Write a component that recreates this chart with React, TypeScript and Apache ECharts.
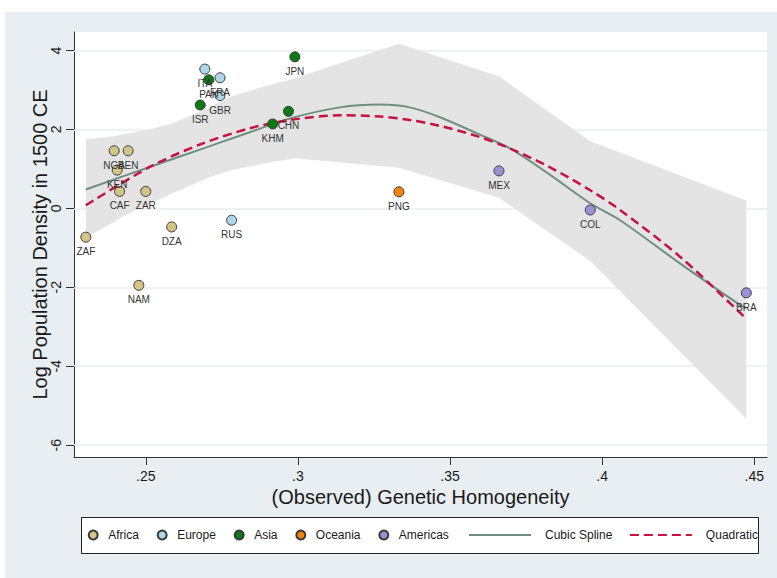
import { useEffect, useRef } from "react";
import * as echarts from "echarts";

// [country code, genetic homogeneity, log population density 1500 CE]
const africa: [string, number, number][] = [
  ["ZAF", 0.2303, -0.73],
  ["NGA", 0.2396, 1.46],
  ["BEN", 0.2442, 1.46],
  ["KEN", 0.2406, 0.97],
  ["CAF", 0.2414, 0.43],
  ["ZAR", 0.25, 0.43],
  ["DZA", 0.2585, -0.47],
  ["NAM", 0.2477, -1.95],
];
const europe: [string, number, number][] = [
  ["ITA", 0.2694, 3.53],
  ["FRA", 0.2744, 3.31],
  ["GBR", 0.2744, 2.86],
  ["RUS", 0.2782, -0.3],
];
const asia: [string, number, number][] = [
  ["PAK", 0.2707, 3.26],
  ["ISR", 0.2679, 2.62],
  ["JPN", 0.299, 3.84],
  ["CHN", 0.2969, 2.46],
  ["KHM", 0.2917, 2.14],
];
const oceania: [string, number, number][] = [["PNG", 0.3332, 0.42]];
const americas: [string, number, number][] = [
  ["MEX", 0.3661, 0.95],
  ["COL", 0.3961, -0.04],
  ["BRA", 0.4474, -2.14],
];

// confidence band of the cubic spline
const bandX = [0.2303, 0.2395, 0.2414, 0.2441, 0.2477, 0.25, 0.2586, 0.2678, 0.2707, 0.2743, 0.2783, 0.2918, 0.297, 0.299, 0.3332, 0.3661, 0.3961, 0.4474];
const bandUpper = [1.75, 1.83, 1.86, 1.9, 1.95, 1.98, 2.15, 2.45, 2.55, 2.7, 2.85, 3.15, 3.25, 3.3, 4.17, 3.35, 1.7, 0.2];
const bandLower = [-0.74, -0.35, -0.25, -0.14, 0.0, 0.06, 0.38, 0.68, 0.78, 0.88, 0.97, 1.18, 1.24, 1.27, 1.03, 0.27, -1.33, -5.33];

// fitted curves
const fitX = [0.2303, 0.2513, 0.2678, 0.2842, 0.2974, 0.3138, 0.327, 0.3368, 0.3467, 0.3589, 0.3697, 0.3829, 0.3961, 0.4059, 0.4257, 0.4454, 0.4474];
const cubicY = [0.48, 1.05, 1.49, 1.93, 2.28, 2.56, 2.63, 2.56, 2.31, 1.9, 1.52, 0.85, 0.13, -0.3, -1.4, -2.45, -2.52];
const quadY = [0.08, 1.05, 1.62, 2.03, 2.24, 2.36, 2.33, 2.24, 2.09, 1.83, 1.52, 1.04, 0.46, -0.04, -1.23, -2.65, -2.81];

const xTicks = [0.25, 0.3, 0.35, 0.4, 0.45];
const yTicks = [-6, -4, -2, 0, 2, 4];

export default function App() {
  const ref = useRef<HTMLDivElement>(null);
  useEffect(() => {
    const chart = echarts.init(ref.current!, null, { renderer: "svg" });
    const font = "'Liberation Sans', Arial, Helvetica, sans-serif";
    const scatter = (name: string, color: string, data: [string, number, number][]) => ({
      name,
      type: "scatter",
      data: data.map((d) => ({ name: d[0], value: [d[1], d[2]] })),
      symbolSize: 10,
      z: 5,
      itemStyle: { color, borderColor: "#3a3a3a", borderWidth: 1, opacity: 1 },
      label: {
        show: true,
        position: "bottom",
        distance: 4,
        formatter: "{b}",
        fontSize: 10,
        color: "#333",
        fontFamily: font,
      },
      emphasis: { disabled: true },
    });
    const option: any = {
      animation: false,
      backgroundColor: "#ffffff",
      textStyle: { fontFamily: font },
      graphic: [
        {
          type: "rect",
          z: -10,
          silent: true,
          shape: { x: 5, y: 12, width: 772, height: 566 },
          style: { fill: "#e8eef1" },
        },
        {
          type: "rect",
          z: -5,
          silent: true,
          shape: { x: 81.5, y: 517.5, width: 677, height: 36 },
          style: { fill: "#ffffff", stroke: "#222", lineWidth: 1 },
        },
      ],
      grid: { left: 74, right: 10, top: 32, bottom: 121, show: true, backgroundColor: "#ffffff", borderWidth: 0 },
      xAxis: {
        type: "value",
        min: 0.2264,
        max: 0.4542,
        name: "(Observed) Genetic Homogeneity",
        nameLocation: "middle",
        nameGap: 30,
        nameMoveOverlap: false,
        nameTextStyle: { fontSize: 20, color: "#1a1a1a", fontFamily: font },
        axisLine: { show: true, onZero: false, lineStyle: { color: "#333", width: 1 } },
        axisTick: { show: true, length: 8, customValues: xTicks, lineStyle: { color: "#333" } },
        axisLabel: {
          customValues: xTicks,
          margin: 12,
          fontSize: 14,
          color: "#1a1a1a",
          fontFamily: font,
          formatter: (v: number) => String(v).replace(/^0/, ""),
        },
        splitLine: { show: false },
      },
      yAxis: {
        type: "value",
        min: -6.3,
        max: 4.47,
        name: "Log Population Density in 1500 CE",
        nameLocation: "middle",
        nameGap: 24,
        nameMoveOverlap: false,
        nameTextStyle: { fontSize: 20, color: "#1a1a1a", fontFamily: font },
        axisLine: { show: true, onZero: false, lineStyle: { color: "#333", width: 1 } },
        axisTick: { show: true, length: 8, customValues: yTicks, lineStyle: { color: "#333" } },
        axisLabel: { customValues: yTicks, rotate: 90, margin: 11, fontSize: 14, color: "#1a1a1a", fontFamily: font },
        splitLine: { show: false },
      },
      legend: [
        {
          data: ["Africa", "Europe", "Asia", "Oceania", "Americas"],
          left: 87.7,
          top: 529,
          padding: 0,
          itemWidth: 20,
          itemHeight: 9,
          itemGap: 17.8,
          icon: "circle",
          selectedMode: false,
          textStyle: { fontSize: 12, color: "#1a1a1a", fontFamily: font },
        },
        {
          data: ["Cubic Spline", "Quadratic"],
          left: 468,
          top: 529,
          padding: 0,
          itemWidth: 62,
          itemHeight: 1,
          itemGap: 16.5,
          selectedMode: false,
          itemStyle: { color: "rgba(0,0,0,0)", borderWidth: 0 },
          formatter: (n: string) => "{s|}" + n,
          textStyle: { fontSize: 12, color: "#1a1a1a", fontFamily: font, rich: { s: { width: 9 } } },
        },
      ],
      series: [
        {
          type: "custom",
          name: "CI",
          silent: true,
          z: 2,
          data: bandX.map((x, i) => [x, bandUpper[i], bandLower[i]]),
          encode: { x: 0, y: [1, 2] },
          renderItem: (params: any, api: any) => {
            if (params.dataIndex !== 0) return null;
            const up = bandX.map((x, i) => api.coord([x, bandUpper[i]]));
            const lo = bandX.map((x, i) => api.coord([x, bandLower[i]])).reverse();
            return { type: "polygon", shape: { points: up.concat(lo) }, style: { fill: "#e4e4e4" } };
          },
          markLine: {
            silent: true,
            z: 1,
            symbol: ["none", "none"],
            label: { show: false },
            lineStyle: { color: "#e8eef1", width: 1.5, type: "solid" },
            data: yTicks.map((v) => ({ yAxis: v })),
          },
        },
        {
          name: "Cubic Spline",
          type: "line",
          z: 3,
          data: fitX.map((x, i) => [x, cubicY[i]]),
          smooth: 0.3,
          symbol: "none",
          lineStyle: { color: "#6e8f80", width: 2 },
          itemStyle: { color: "#6e8f80" },
          emphasis: { disabled: true },
        },
        {
          name: "Quadratic",
          type: "line",
          z: 4,
          data: fitX.map((x, i) => [x, quadY[i]]),
          smooth: 0.3,
          symbol: "none",
          lineStyle: { color: "#c8113c", width: 2.5, type: [9, 5] },
          itemStyle: { color: "#c8113c" },
          emphasis: { disabled: true },
        },
        scatter("Africa", "#d3c487", africa),
        scatter("Europe", "#aed8e8", europe),
        scatter("Asia", "#0b7a12", asia),
        scatter("Oceania", "#f5820f", oceania),
        scatter("Americas", "#9b90d6", americas),
      ],
    };
    chart.setOption(option);
    return () => chart.dispose();
  }, []);
  return <div ref={ref} style={{ position: "fixed", left: 0, top: 0, width: 777, height: 578 }} />;
}
